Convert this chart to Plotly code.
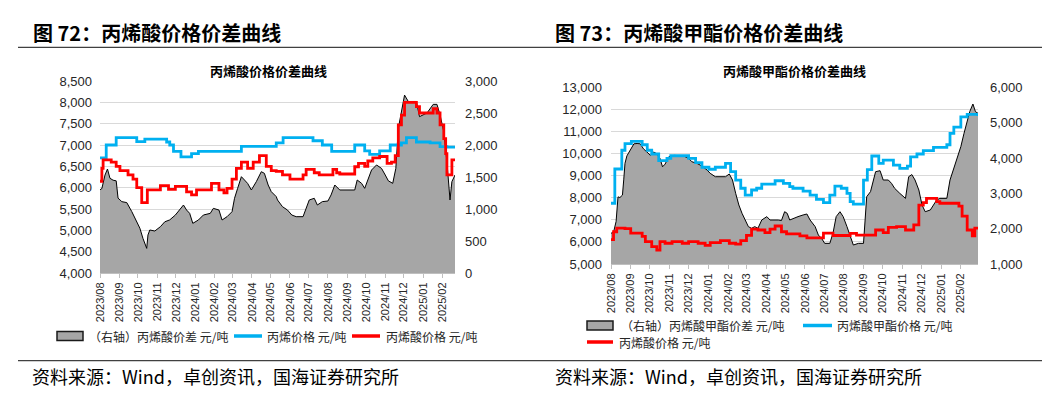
import plotly.graph_objects as go

W, H = 1057, 399

# ---------------- Left chart: 丙烯酸 ----------------
gray_l_dates = ["2023-08-01","2023-08-04","2023-08-09","2023-08-13","2023-08-17","2023-08-22","2023-08-27","2023-08-30","2023-09-05","2023-09-13",
                "2023-09-21","2023-09-29","2023-10-04","2023-10-09","2023-10-15","2023-10-17","2023-10-20","2023-10-28","2023-11-06","2023-11-13",
                "2023-11-21","2023-11-30","2023-12-07","2023-12-13","2023-12-18","2023-12-23","2023-12-28","2024-01-06","2024-01-14","2024-01-25",
                "2024-01-30","2024-02-08","2024-02-13","2024-02-21","2024-02-29","2024-03-04","2024-03-09","2024-03-15","2024-03-20","2024-03-25",
                "2024-03-31","2024-04-08","2024-04-16","2024-04-21","2024-04-27","2024-05-02","2024-05-10","2024-05-12","2024-05-20","2024-05-28",
                "2024-06-04","2024-06-11","2024-06-22","2024-06-27","2024-07-02","2024-07-10","2024-07-15","2024-07-23","2024-08-01","2024-08-06",
                "2024-08-12","2024-08-20","2024-09-13","2024-09-17","2024-09-24","2024-09-29","2024-10-04","2024-10-10","2024-10-18","2024-10-26",
                "2024-11-01","2024-11-06","2024-11-13","2024-11-18","2024-11-22","2024-11-27","2024-12-02","2024-12-08","2024-12-21","2024-12-26",
                "2025-01-07","2025-01-17","2025-01-23","2025-01-28","2025-02-03","2025-02-08","2025-02-13","2025-02-16","2025-02-21"]
gray_l = [1300,1320,1530,1625,1480,1450,1440,1170,1115,1100,
          960,800,700,540,385,594,672,656,724,800,
          830,906,984,1062,984,932,776,828,906,932,
          1010,984,828,880,958,1167,1323,1505,1453,1400,
          1297,1427,1583,1557,1375,1271,1193,1141,1036,984,
          906,880,880,1010,1141,1167,1062,1115,1125,1219,
          1375,1297,1297,1453,1401,1323,1453,1609,1688,1635,
          1531,1440,1401,1635,2260,2521,2780,2680,2680,2443,
          2500,2635,2635,2470,2208,1740,1141,1427,1531]

blue_l_dates = ["2023-08-01","2023-08-11","2023-08-27","2023-09-29","2023-10-12","2023-11-16","2023-11-21","2023-11-27","2023-12-09","2023-12-26",
                "2024-01-06","2024-03-15","2024-05-10","2024-05-21","2024-07-08","2024-07-23","2024-08-07","2024-09-13","2024-09-29","2024-10-07",
                "2024-10-23","2024-11-09","2024-11-27","2024-12-05","2024-12-21","2025-01-12","2025-01-28","2025-02-08","2025-02-21"]
blue_l = [6700,7000,7175,7080,7140,7070,7000,6850,6720,6800,
          6850,6970,7050,7175,7100,7000,6850,7000,6860,6780,
          6860,7000,7050,7175,7070,7050,6960,6950,6950]

red_l_dates = ["2023-08-01","2023-08-04","2023-08-06","2023-08-19","2023-08-27","2023-09-02","2023-09-15","2023-09-23","2023-09-29","2023-10-07",
               "2023-10-16","2023-11-06","2023-11-19","2023-11-30","2023-12-18","2023-12-26","2024-01-03","2024-01-27","2024-02-08","2024-02-16",
               "2024-02-21","2024-02-29","2024-03-07","2024-03-15","2024-03-25","2024-04-03","2024-04-13","2024-04-24","2024-05-02","2024-05-10",
               "2024-05-20","2024-06-01","2024-06-22","2024-06-27","2024-07-10","2024-07-18","2024-08-09","2024-08-15","2024-08-20","2024-09-13",
               "2024-09-19","2024-09-29","2024-10-04","2024-10-12","2024-10-23","2024-11-04","2024-11-11","2024-11-17","2024-11-22","2024-11-27",
               "2024-12-02","2024-12-21","2024-12-26","2025-01-17","2025-01-23","2025-01-28","2025-02-03","2025-02-06","2025-02-08","2025-02-16",
               "2025-02-21"]
red_l = [6150,6450,6650,6600,6500,6400,6300,6200,6000,5650,
         5950,6050,5960,6030,5900,5830,5950,6100,5950,5880,
         5985,6200,6450,6600,6450,6600,6750,6500,6400,6380,
         6300,6200,6300,6430,6350,6300,6430,6350,6320,6490,
         6570,6500,6625,6700,6730,6570,6600,6750,7470,7700,
         8000,7900,7750,7850,7750,7470,7150,6800,6300,6650,
         6650]

# ---------------- Right chart: 丙烯酸甲酯 ----------------
gray_r_dates = ["2023-08-01","2023-08-05","2023-08-09","2023-08-12","2023-08-15","2023-08-19","2023-08-21","2023-08-23","2023-08-26","2023-09-01",
                "2023-09-06","2023-09-11","2023-09-16","2023-09-21","2023-09-27","2023-10-02","2023-10-07","2023-10-12","2023-10-17","2023-10-21",
                "2023-10-25","2023-10-31","2023-11-08","2023-11-16","2023-11-23","2023-12-01","2023-12-06","2023-12-14","2023-12-22","2023-12-30",
                "2024-01-04","2024-01-12","2024-01-28","2024-02-03","2024-02-08","2024-02-13","2024-02-18","2024-02-23","2024-02-28","2024-03-04",
                "2024-03-09","2024-03-14","2024-03-19","2024-03-25","2024-04-02","2024-04-07","2024-04-20","2024-04-25","2024-04-30","2024-05-04",
                "2024-05-08","2024-05-13","2024-05-21","2024-05-29","2024-06-04","2024-06-09","2024-06-17","2024-06-22","2024-06-27","2024-07-02",
                "2024-07-10","2024-07-15","2024-07-20","2024-07-26","2024-07-31","2024-08-06","2024-08-11","2024-08-16","2024-08-24","2024-09-01",
                "2024-09-06","2024-09-12","2024-09-20","2024-09-27","2024-10-02","2024-10-10","2024-10-15","2024-10-20","2024-10-28","2024-11-06",
                "2024-11-11","2024-11-16","2024-11-21","2024-11-27","2024-12-02","2024-12-07","2024-12-15","2024-12-20","2024-12-25","2024-12-30",
                "2025-01-10","2025-01-15","2025-01-21","2025-01-26","2025-02-01","2025-02-06","2025-02-11","2025-02-15","2025-02-20","2025-02-24",
                "2025-02-28"]
gray_r = [1870,1900,2200,2900,2880,2950,3380,3850,4060,4230,
          4400,4410,4400,4260,4170,4075,4170,4120,3990,3750,
          3825,4036,4075,4075,4056,3990,3895,3848,3773,3660,
          3566,3470,3470,3547,3377,3000,2670,2434,2245,2057,
          2010,2057,2010,2245,2340,2245,2245,2230,2480,2434,
          2245,2290,2340,2387,2415,2245,2057,1820,1726,1584,
          1584,1870,2340,2480,2340,2057,1820,1537,1584,1584,
          2905,3047,3612,3640,3377,3377,3282,3140,3000,2857,
          3470,3530,3377,3094,2670,2480,2528,2670,2810,2857,
          2857,3377,3707,3942,4320,4697,5075,5310,5527,5310,
          5264]

blue_r_dates = ["2023-08-01","2023-08-07","2023-08-18","2023-08-23","2023-09-02","2023-09-19","2023-09-27","2023-10-04","2023-10-15","2023-10-28",
                "2023-11-03","2023-12-01","2023-12-12","2023-12-22","2024-01-02","2024-01-12","2024-01-28","2024-02-05","2024-02-13","2024-02-21",
                "2024-02-28","2024-03-09","2024-03-17","2024-03-25","2024-04-15","2024-04-28","2024-05-08","2024-05-13","2024-05-29","2024-06-09",
                "2024-06-19","2024-06-30","2024-07-10","2024-07-18","2024-07-28","2024-08-06","2024-08-11","2024-08-16","2024-09-01","2024-09-07",
                "2024-09-14","2024-09-25","2024-10-02","2024-10-18","2024-10-28","2024-11-09","2024-11-14","2024-11-24","2024-12-04","2024-12-20",
                "2025-01-10","2025-01-15","2025-01-21","2025-02-01","2025-02-11","2025-02-28"]
blue_r = [7750,9300,10150,10450,10550,10400,10150,9980,9680,9780,
          9900,9780,9590,9380,9290,9380,9560,9180,8800,8430,
          8120,8350,8430,8620,8770,8650,8500,8430,8300,8120,
          7930,7775,8120,8530,8430,8200,7820,7715,8800,9270,
          9890,9560,9700,9480,9330,9430,9850,9980,10130,10280,
          10400,10910,11200,11665,11770,11700]

red_r_dates = ["2023-08-01","2023-08-05","2023-08-10","2023-08-23","2023-09-01","2023-09-19","2023-09-24","2023-10-04","2023-10-12","2023-10-17",
               "2023-10-25","2023-11-05","2023-11-21","2023-12-01","2023-12-16","2023-12-27","2024-01-04","2024-01-20","2024-02-03","2024-02-13",
               "2024-02-21","2024-03-01","2024-03-09","2024-03-19","2024-03-30","2024-04-07","2024-04-15","2024-04-25","2024-05-03","2024-05-24",
               "2024-06-04","2024-06-30","2024-07-15","2024-08-11","2024-08-21","2024-09-20","2024-10-02","2024-10-10","2024-10-23","2024-11-06",
               "2024-11-19","2024-11-27","2024-12-04","2024-12-09","2024-12-25","2024-12-30","2025-01-29","2025-02-03","2025-02-11","2025-02-19",
               "2025-02-23","2025-02-28"]
red_r = [6100,6460,6620,6600,6400,6250,6010,5790,5630,6010,
         5940,6010,5940,6010,5940,5840,5970,6060,5940,5900,
         6060,6300,6580,6540,6420,6580,6720,6460,6360,6270,
         6180,6400,6290,6390,6310,6540,6420,6660,6690,6540,
         6770,7670,7780,7970,7820,7750,7620,7170,6540,6270,
         6620,6620]

headings = ["<b>图 72：丙烯酸价格价差曲线</b>", "<b>图 73：丙烯酸甲酯价格价差曲线</b>"]
chart_titles = ["<b>丙烯酸价格价差曲线</b>", "<b>丙烯酸甲酯价格价差曲线</b>"]
legend_l = ["（右轴）丙烯酸价差 元/吨", "丙烯价格 元/吨", "丙烯酸价格 元/吨"]
legend_r = ["（右轴）丙烯酸甲酯价差 元/吨", "丙烯酸甲酯价格 元/吨", "丙烯酸价格 元/吨"]
source = "资料来源：Wind，卓创资讯，国海证券研究所"

# ---------------- styling ----------------
GRAY, BLUE, RED = "#a6a6a6", "#00b0f0", "#ff0000"
CJK = "Noto Sans CJK SC"
NUM = "Liberation Sans, Arial, sans-serif"
TXT = "#262626"

def px(x):
    return x / W

def py(y):
    return 1 - y / H

fig = go.Figure()

# left chart traces
fig.add_trace(go.Scatter(x=gray_l_dates, y=gray_l, xaxis="x", yaxis="y", fill="tozeroy",
                         fillcolor=GRAY, line=dict(color="black", width=1), mode="lines",
                         name=legend_l[0], showlegend=False))
fig.add_trace(go.Scatter(x=blue_l_dates, y=blue_l, xaxis="x", yaxis="y2", mode="lines",
                         line=dict(color=BLUE, width=2.8, shape="hv"), name=legend_l[1], showlegend=False))
fig.add_trace(go.Scatter(x=red_l_dates, y=red_l, xaxis="x", yaxis="y2", mode="lines",
                         line=dict(color=RED, width=2.8, shape="hv"), name=legend_l[2], showlegend=False))

# right chart traces
fig.add_trace(go.Scatter(x=gray_r_dates, y=gray_r, xaxis="x2", yaxis="y3", fill="tozeroy",
                         fillcolor=GRAY, line=dict(color="black", width=1), mode="lines",
                         name=legend_r[0], showlegend=False))
fig.add_trace(go.Scatter(x=blue_r_dates, y=blue_r, xaxis="x2", yaxis="y4", mode="lines",
                         line=dict(color=BLUE, width=2.8, shape="hv"), name=legend_r[1], showlegend=False))
fig.add_trace(go.Scatter(x=red_r_dates, y=red_r, xaxis="x2", yaxis="y4", mode="lines",
                         line=dict(color=RED, width=2.8, shape="hv"), name=legend_r[2], showlegend=False))

xcommon = dict(type="date", dtick="M1", tick0="2023-08-01", tickformat="%Y/%m", tickangle=-90,
               showgrid=False, showline=True, linecolor="#bfbfbf", linewidth=1,
               ticks="outside", ticklen=4, tickcolor="#bfbfbf", automargin=False,
               tickfont=dict(family=NUM, size=11, color=TXT), zeroline=False, fixedrange=True)
ycommon = dict(tickformat=",d", zeroline=False, showline=False, ticks="", automargin=False,
               tickfont=dict(family=NUM, size=13, color=TXT), fixedrange=True)

fig.update_layout(
    width=W, height=H, autosize=False,
    margin=dict(l=0, r=0, t=0, b=0, pad=0, autoexpand=False),
    paper_bgcolor="white", plot_bgcolor="white", showlegend=False,
    xaxis=dict(domain=[px(100), px(455)], anchor="y",
               range=["2023-08-01", "2025-02-21"], **xcommon),
    yaxis=dict(domain=[py(273), py(81)], anchor="x", side="right", range=[0, 3000], dtick=500,
               showgrid=False, ticklabelstandoff=9, **ycommon),
    yaxis2=dict(overlaying="y", anchor="x", side="left", range=[4000, 8500], dtick=500,
                showgrid=True, gridcolor="#d9d9d9", gridwidth=1, ticklabelstandoff=7, **ycommon),
    xaxis2=dict(domain=[px(611), px(978)], anchor="y3",
                range=["2023-08-01", "2025-02-28"], **xcommon),
    yaxis3=dict(domain=[py(264), py(87.3)], anchor="x2", side="right", range=[1000, 6000], dtick=1000,
                showgrid=False, ticklabelstandoff=11, **ycommon),
    yaxis4=dict(overlaying="y3", anchor="x2", side="left", range=[5000, 13000], dtick=1000,
                showgrid=True, gridcolor="#d9d9d9", gridwidth=1, ticklabelstandoff=8, **ycommon),
)

shapes = []
annotations = []

# rules
for yline in (47.3, 360.7):
    shapes.append(dict(type="line", xref="paper", yref="paper", x0=px(18), x1=px(1042),
                       y0=py(yline), y1=py(yline), line=dict(color="#404040", width=1.2)))

# headings
for txt, x0 in zip(headings, (31, 553)):
    annotations.append(dict(text=txt, xref="paper", yref="paper", x=px(x0), y=py(33),
                            xanchor="left", yanchor="middle", showarrow=False,
                            font=dict(family=CJK, size=20, color="black")))

# chart titles
for txt, xc in zip(chart_titles, (268, 794)):
    annotations.append(dict(text=txt, xref="paper", yref="paper", x=px(xc), y=py(70),
                            xanchor="center", yanchor="middle", showarrow=False,
                            font=dict(family=CJK, size=13, color="black")))

# sources
for x0 in (30, 553):
    annotations.append(dict(text=source, xref="paper", yref="paper", x=px(x0), y=py(376),
                            xanchor="left", yanchor="middle", showarrow=False,
                            font=dict(family=CJK, size=18, color="black")))

def leg_box(x0, x1, yc):
    shapes.append(dict(type="rect", xref="paper", yref="paper", x0=px(x0), x1=px(x1),
                       y0=py(yc + 4.5), y1=py(yc - 4.5), fillcolor=GRAY,
                       line=dict(color="#1a1a1a", width=1.5)))

def leg_line(x0, x1, yc, color):
    shapes.append(dict(type="line", xref="paper", yref="paper", x0=px(x0), x1=px(x1),
                       y0=py(yc), y1=py(yc), line=dict(color=color, width=3.5)))

def leg_text(txt, x0, yc):
    annotations.append(dict(text=txt, xref="paper", yref="paper", x=px(x0), y=py(yc),
                            xanchor="left", yanchor="middle", showarrow=False,
                            font=dict(family=CJK, size=12, color=TXT)))

# left legend
leg_box(57, 83, 336)
leg_text(legend_l[0], 87, 336)
leg_line(234, 262, 336, BLUE)
leg_text(legend_l[1], 265, 336)
leg_line(352, 380, 336, RED)
leg_text(legend_l[2], 384, 336)

# right legend
leg_box(587, 613, 325.5)
leg_text(legend_r[0], 619, 325.5)
leg_line(803, 832, 325.5, BLUE)
leg_text(legend_r[1], 835, 325.5)
leg_line(587, 613, 342, RED)
leg_text(legend_r[2], 617, 342)

fig.update_layout(shapes=shapes, annotations=annotations)

# place the figure at the top-left corner of the page, without the default body margin
page_fix = ("document.documentElement.style.margin='0';document.documentElement.style.padding='0';"
            "document.documentElement.style.overflow='hidden';"
            "document.body.style.margin='0';document.body.style.padding='0';document.body.style.overflow='hidden';"
            "var gd=document.getElementById('{plot_id}');gd.style.position='fixed';gd.style.left='0px';gd.style.top='0px';")

fig.write_html("out.html", post_script=page_fix,
               config={"displayModeBar": False, "staticPlot": True, "responsive": False})
